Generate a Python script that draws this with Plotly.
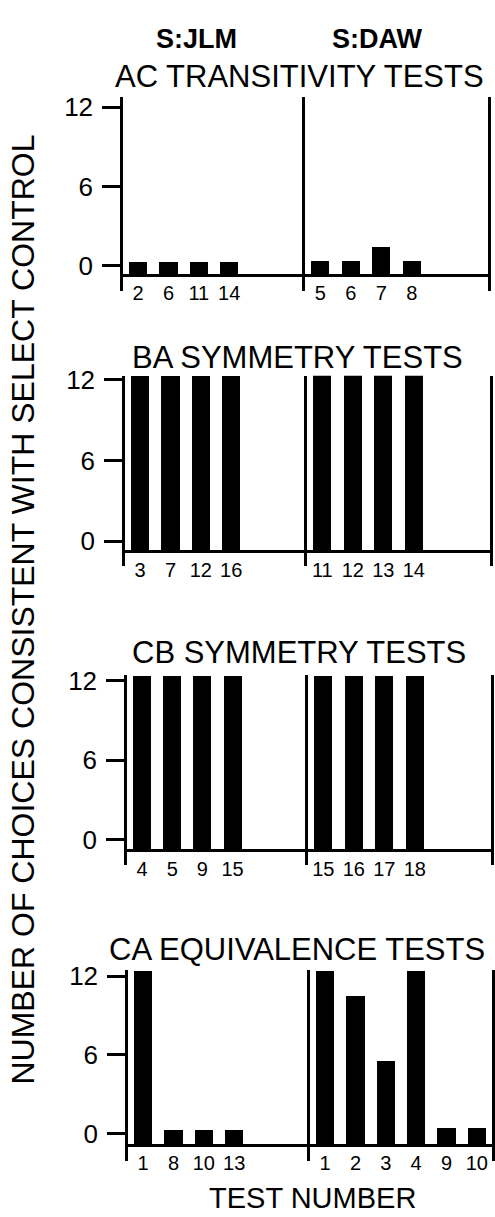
import plotly.graph_objects as go

W, H = 495, 1217
FONT = "Liberation Sans, Arial, Helvetica, sans-serif"
NARROW = "Liberation Sans Narrow, Arial Narrow, Liberation Sans, Arial, sans-serif"

# ---------------- data ----------------
subjects = ["S:JLM", "S:DAW"]
panel_titles = ["AC TRANSITIVITY TESTS", "BA SYMMETRY TESTS",
                "CB SYMMETRY TESTS", "CA EQUIVALENCE TESTS"]

jlm_tests = [["2", "6", "11", "14"],
             ["3", "7", "12", "16"],
             ["4", "5", "9", "15"],
             ["1", "8", "10", "13"]]
jlm_values = [[0.3, 0.3, 0.3, 0.3],
              [12.3, 12.3, 12.3, 12.3],
              [12.4, 12.4, 12.4, 12.4],
              [12.4, 0.3, 0.3, 0.3]]

daw_tests = [["5", "6", "7", "8"],
             ["11", "12", "13", "14"],
             ["15", "16", "17", "18"],
             ["1", "2", "3", "4", "9", "10"]]
daw_values = [[0.35, 0.35, 1.4, 0.35],
              [12.4, 12.4, 12.4, 12.4],
              [12.4, 12.4, 12.4, 12.4],
              [12.4, 10.5, 5.5, 12.4, 0.4, 0.4]]

y_ticks = [0, 6, 12]
y_title = "NUMBER OF CHOICES CONSISTENT WITH SELECT CONTROL"
x_title = "TEST NUMBER"

# ---------------- layout (pixel positions) ----------------
rows_px = [
    dict(left=123, div=305, right=488, top=87, y12=97, y0=257, axis=266, bottom=283, title=(299, 66)),
    dict(left=125, div=307, right=490, top=368, y12=372, y0=535, axis=545, bottom=560, title=(297, 350)),
    dict(left=127, div=308, right=491, top=670, y12=676, y0=836, axis=847, bottom=862, title=(299, 647)),
    dict(left=128, div=310, right=492, top=968, y12=974, y0=1133, axis=1144, bottom=1160, title=(297, 947)),
]

fig = go.Figure()
layout = {}
annotations = []
LW = 2.5

for r, p in enumerate(rows_px):
    u = (p["y0"] - p["y12"]) / 12.0
    ymin = -(p["bottom"] - p["y0"]) / u
    ymax = 12 + (p["y12"] - p["top"]) / u
    base_val = -(p["axis"] - p["y0"]) / u
    ydom = [1 - p["bottom"] / H, 1 - p["top"] / H]
    for c in range(2):
        k = r * 2 + c + 1
        xs = "x" if k == 1 else f"x{k}"
        ys = "y" if k == 1 else f"y{k}"
        tests = jlm_tests[r] if c == 0 else daw_tests[r]
        vals = jlm_values[r] if c == 0 else daw_values[r]
        pos = list(range(len(tests)))
        fig.add_trace(go.Bar(
            x=pos, y=[v - base_val for v in vals], base=base_val,
            width=0.6, marker=dict(color="black", line=dict(width=0)),
            xaxis=xs, yaxis=ys, showlegend=False, hoverinfo="skip"))
        xdom = [p["left"] / W, p["div"] / W] if c == 0 else [p["div"] / W, p["right"] / W]
        layout["xaxis" if k == 1 else f"xaxis{k}"] = dict(
            domain=xdom, range=[-0.5, 5.5], anchor="free",
            position=1 - p["axis"] / H, showline=True, linecolor="black",
            linewidth=LW, showgrid=False, zeroline=False, ticks="",
            tickvals=pos, ticktext=tests, ticklabelstandoff=0,
            tickfont=dict(family=NARROW, size=20, color="black"),
            fixedrange=True)
        ycfg = dict(
            domain=ydom, range=[ymin, ymax], anchor=xs,
            showline=True, linecolor="black", linewidth=LW,
            showgrid=False, zeroline=False, fixedrange=True)
        if c == 0:
            ycfg.update(ticks="outside", ticklen=18, tickwidth=LW, tickcolor="black",
                        tickvals=y_ticks, ticktext=[str(t) for t in y_ticks],
                        tickfont=dict(family=FONT, size=26, color="black"),
                        ticklabelstandoff=4)
        else:
            ycfg.update(mirror=True, showticklabels=False, ticks="")
        layout["yaxis" if k == 1 else f"yaxis{k}"] = ycfg
    tx, ty = p["title"]
    annotations.append(dict(text=panel_titles[r], x=tx / W, y=1 - ty / H,
                            xref="paper", yref="paper", xanchor="center", yanchor="middle",
                            showarrow=False, font=dict(family=FONT, size=31, color="black")))

annotations.append(dict(text="<b>" + subjects[0] + "</b>", x=196 / W, y=1 - 28 / H,
                        xref="paper", yref="paper", xanchor="center", yanchor="middle",
                        showarrow=False, font=dict(family=FONT, size=27, color="black")))
annotations.append(dict(text="<b>" + subjects[1] + "</b>", x=377 / W, y=1 - 28 / H,
                        xref="paper", yref="paper", xanchor="center", yanchor="middle",
                        showarrow=False, font=dict(family=FONT, size=27, color="black")))
annotations.append(dict(text=y_title, x=23 / W, y=1 - 604 / H, textangle=-90,
                        xref="paper", yref="paper", xanchor="center", yanchor="middle",
                        showarrow=False, font=dict(family=FONT, size=32, color="black")))
annotations.append(dict(text=x_title, x=312 / W, y=1 - 1198 / H,
                        xref="paper", yref="paper", xanchor="center", yanchor="middle",
                        showarrow=False, font=dict(family=FONT, size=29, color="black")))

fig.update_layout(
    width=W, height=H, margin=dict(l=0, r=0, t=0, b=0),
    paper_bgcolor="white", plot_bgcolor="white",
    bargap=0, annotations=annotations, **layout)

fig.write_html("out.html", config=dict(displayModeBar=False))
